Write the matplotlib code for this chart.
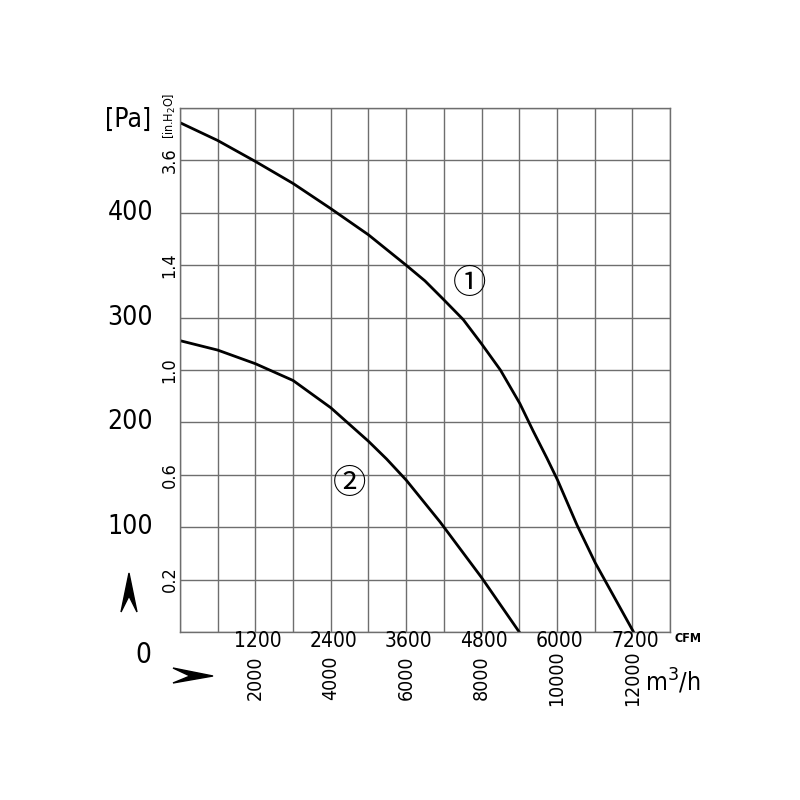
import numpy as np
import matplotlib
matplotlib.use('Agg')
import matplotlib.pyplot as plt
import matplotlib.font_manager as fm
from matplotlib.patches import Polygon
import matplotlib.transforms as mtransforms

# curve data: airflow in CFM, static pressure in Pa
cfm_1 = [0, 600, 1200, 1800, 2400, 3000, 3600, 3900, 4200, 4510, 4800, 5100,
         5410, 5620, 5840, 6010, 6320, 6610, 7220]
pa_1 = [486, 469, 449, 428, 404, 379, 350, 335, 317, 298, 275, 250,
        218, 192, 166, 145, 102, 66, 0]

cfm_2 = [0, 600, 1200, 1800, 2400, 2700, 3000, 3290, 3600, 4140, 4800, 5400]
pa_2 = [278, 269, 256, 240, 214, 198, 182, 165, 145, 105, 52, 0]

# axis labels
pa_ticks = [100, 200, 300, 400]
inh2o_pos = [50, 150, 250, 350, 450]
inh2o_labels = ['0.2', '0.6', '1.0', '1.4', '3.6']
cfm_ticks = [1200, 2400, 3600, 4800, 6000, 7200]
m3h_labels = ['2000', '4000', '6000', '8000', '10000', '12000']

# look for a narrow sans face, the chart uses a condensed font
font = dict(family='Liberation Sans')
for f in fm.fontManager.ttflist:
    if f.style == 'normal' and f.weight in (400, 'normal', 'regular') and \
            (f.stretch not in ('normal', 500) or 'Narrow' in f.name or 'Condensed' in f.name) \
            and 'Serif' not in f.name and 'Mono' not in f.name:
        font = dict(family=f.name, stretch=f.stretch)
        break

fig = plt.figure(figsize=(8, 8), dpi=100)
ax = fig.add_axes([0.225, 0.21, 0.6125, 0.655])

ax.plot(cfm_1, pa_1, color='black', lw=2)
ax.plot(cfm_2, pa_2, color='black', lw=2)

ax.set_xlim(0, 7800)
ax.set_ylim(0, 500)
ax.set_xticks(np.arange(0, 7801, 600))
ax.set_yticks(np.arange(0, 501, 50))
ax.tick_params(length=0, labelbottom=False, labelleft=False)
ax.grid(True, color='#6e6e6e', lw=1)
for s in ax.spines.values():
    s.set_color('#6e6e6e')
    s.set_linewidth(1)

# Pa labels
ytr = mtransforms.blended_transform_factory(fig.transFigure, ax.transData)
for v in pa_ticks:
    ax.text(0.163, v, str(v), transform=ytr, ha='center', va='center',
            fontsize=19, **font)
fig.text(0.179, 1 - 655 / 800, '0', ha='center', va='center', fontsize=20, **font)
fig.text(0.16, 1 - 120 / 800, '[Pa]', ha='center', va='center', fontsize=19, **font)

# in.H2O labels
for v, lab in zip(inh2o_pos, inh2o_labels):
    ax.text(0.212, v, lab, transform=ytr, ha='center', va='center',
            rotation=90, fontsize=13, **font)
fig.text(0.213, 1 - 116 / 800, '[in.H$_2$O]', ha='center', va='center',
         rotation=90, fontsize=9, **font)

# CFM labels
xtr = mtransforms.blended_transform_factory(ax.transData, fig.transFigure)
for v in cfm_ticks:
    ax.text(v + 40, 1 - 641 / 800, str(v), transform=xtr, ha='center', va='center',
            fontsize=15, **font)
fig.text(0.843, 1 - 638 / 800, 'CFM', ha='left', va='center', fontsize=9,
         weight='bold', **font)

# m3/h labels
for v, lab in zip(cfm_ticks, m3h_labels):
    ax.text(v, 1 - 678 / 800, lab, transform=xtr, ha='center', va='center',
            rotation=90, fontsize=14, **font)
fig.text(0.806, 1 - 682 / 800, 'm$^3$/h', ha='left', va='center', fontsize=18, **font)

# curve numbers
circ = ['DejaVu Serif', 'Noto Sans CJK JP']
fig.text(470 / 800, 1 - 284 / 800, '①', ha='center', va='center', fontsize=24, family=circ)
fig.text(350 / 800, 1 - 484 / 800, '②', ha='center', va='center', fontsize=24, family=circ)

# direction arrows
up = [(129, 573), (137, 612), (129, 596), (121, 612)]
right = [(213, 676), (173, 668), (190, 676), (173, 683)]
for shape in (up, right):
    pts = [(x / 800, 1 - y / 800) for x, y in shape]
    fig.patches.append(Polygon(pts, closed=True, color='black', transform=fig.transFigure))

plt.savefig('out.png', dpi=100)
